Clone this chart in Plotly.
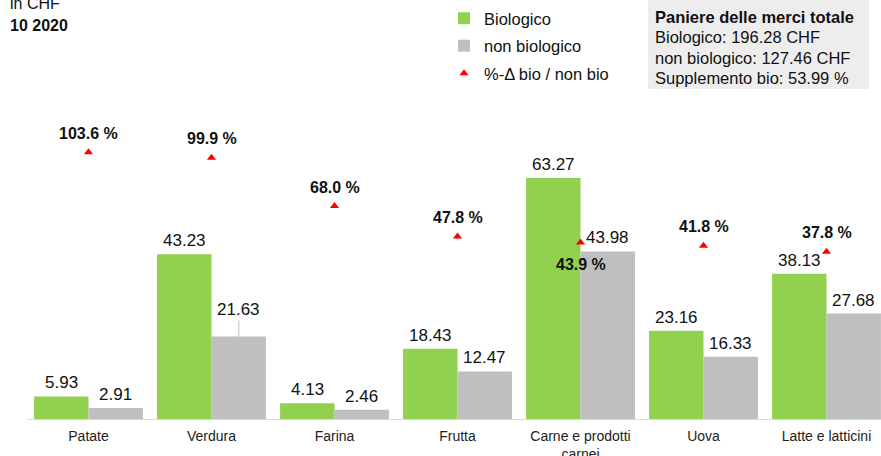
import plotly.graph_objects as go

categories = ["Patate", "Verdura", "Farina", "Frutta", "Carne e prodotti<br>carnei", "Uova", "Latte e latticini"]
bio = [5.93, 43.23, 4.13, 18.43, 63.27, 23.16, 38.13]
non_bio = [2.91, 21.63, 2.46, 12.47, 43.98, 16.33, 27.68]
pct_delta = [103.6, 99.9, 68.0, 47.8, 43.9, 41.8, 37.8]

box_lines = ["<b>Paniere delle merci totale</b>",
             "Biologico: 196.28 CHF",
             "non biologico: 127.46 CHF",
             "Supplemento bio: 53.99 %"]

W, H = 881, 456
L, R, T, B = 27, 0, 100, 37
PW, PH = W - L - R, H - T - B

def px(x):
    return (x - L) / PW

def py(y):
    return (H - B - y) / PH

GREEN = "#92D050"
GRAY = "#BFBFBF"
RED = "#FF0000"
FONT = "Liberation Sans, Arial, sans-serif"

fig = go.Figure()
fig.add_trace(go.Bar(x=categories, y=bio, name="Biologico", marker_color=GREEN,
                     marker_line_width=0, offsetgroup="bio", legendgroup="a"))
fig.add_trace(go.Bar(x=categories, y=non_bio, name="non biologico", marker_color=GRAY,
                     marker_line_width=0, offsetgroup="nb", legendgroup="b"))
fig.add_trace(go.Scatter(x=categories, y=pct_delta, yaxis="y2", mode="markers",
                         name="%-Δ bio / non bio", legendgroup="c",
                         marker=dict(symbol="triangle-up", size=8, color=RED),
                         cliponaxis=False))

for i, c in enumerate(categories):
    shift = -22 if i == 4 else 19
    fig.add_annotation(x=c, y=pct_delta[i], yref="y2", yshift=shift, yanchor="middle",
                       text=f"<b>{pct_delta[i]:.1f} %</b>", showarrow=False,
                       font=dict(family=FONT, size=16, color="#111"))

half = 27.3
for i, c in enumerate(categories):
    for val, sh in ((bio[i], -half), (non_bio[i], half)):
        if i == 1 and sh > 0:
            fig.add_annotation(x=c, y=val, xshift=sh, text=f"{val:.2f}", showarrow=True,
                               ax=0, ay=-27, arrowhead=0, arrowwidth=1, arrowcolor=GRAY,
                               standoff=0, font=dict(family=FONT, size=17, color="#111"))
        else:
            fig.add_annotation(x=c, y=val, xshift=sh, yshift=2, yanchor="bottom",
                               text=f"{val:.2f}", showarrow=False,
                               font=dict(family=FONT, size=17, color="#111"))

# top-left labels
fig.add_annotation(xref="paper", yref="paper", x=px(8), y=py(3), xanchor="left", yanchor="middle",
                   text="in CHF", showarrow=False, font=dict(family=FONT, size=16, color="#111"))
fig.add_annotation(xref="paper", yref="paper", x=px(8), y=py(25), xanchor="left", yanchor="middle",
                   text="<b>10 2020</b>", showarrow=False, font=dict(family=FONT, size=16, color="#111"))

# summary box
fig.add_shape(type="rect", xref="paper", yref="paper", x0=px(648), x1=px(869), y0=py(0), y1=py(89),
              fillcolor="#EDEDED", line_width=0, layer="below")
for k, line in enumerate(box_lines):
    fig.add_annotation(xref="paper", yref="paper", x=px(653), y=py(17 + 20.3 * k),
                       xanchor="left", yanchor="middle", text=line, showarrow=False,
                       font=dict(family=FONT, size=16.5, color="#111"))

fig.update_layout(
    width=W, height=H,
    margin=dict(l=L, r=R, t=T, b=B, pad=0),
    paper_bgcolor="white", plot_bgcolor="white",
    barmode="group", bargap=0.115, bargroupgap=0,
    font=dict(family=FONT, size=14, color="#222"),
    showlegend=True,
    legend=dict(x=px(444), y=py(1), xanchor="left", yanchor="top", xref="paper", yref="paper",
                font=dict(family=FONT, size=16.5, color="#111"), bgcolor="rgba(0,0,0,0)",
                traceorder="grouped", tracegroupgap=3, itemwidth=30),
    xaxis=dict(type="category", range=[-0.5, -0.5 + PW / 123.0], showline=True, linecolor="#D9D9D9",
               linewidth=1, ticks="", showgrid=False, ticklabelstandoff=4, automargin=False,
               tickfont=dict(family=FONT, size=14, color="#222"), fixedrange=True),
    yaxis=dict(range=[0, PH / 3.81], visible=False, showgrid=False, zeroline=False),
    yaxis2=dict(range=[-(H - B - 308.8) / 1.511, (308.8 - T) / 1.511], overlaying="y",
                visible=False, showgrid=False, zeroline=False),
)

fig.write_html("out.html", config={"displayModeBar": False},
               post_script="document.body.style.margin='0';document.body.style.padding='0';")
